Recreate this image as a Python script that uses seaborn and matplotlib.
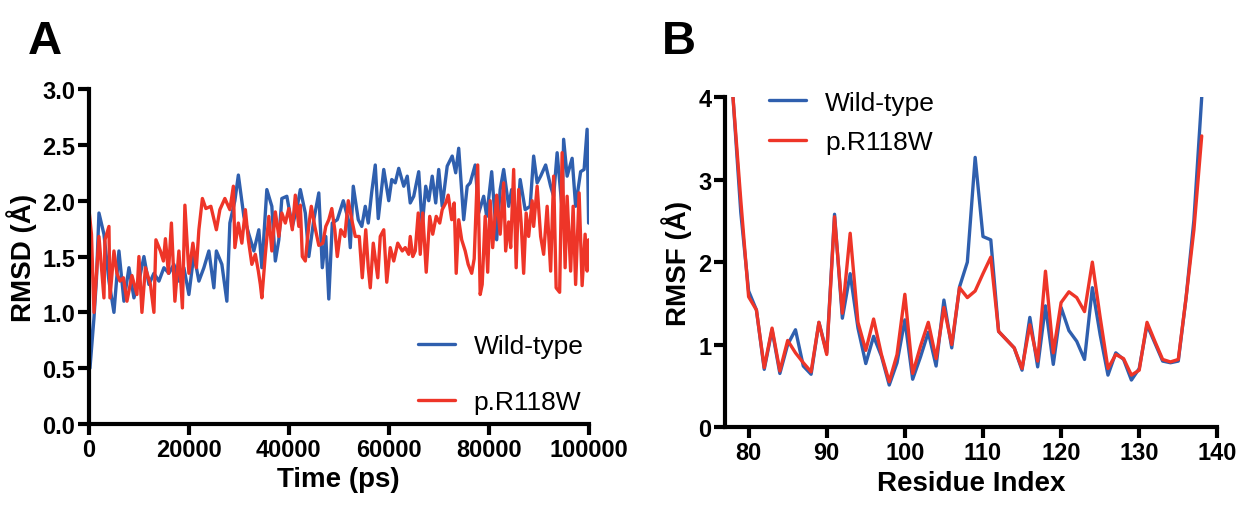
import matplotlib
matplotlib.use("Agg")
import matplotlib.pyplot as plt
import seaborn as sns
import pandas as pd

# RMSD time series (ps, Angstrom)
wt_time = [
    0, 200, 1000, 1500, 2000, 3000, 4000, 5000, 6000, 7000,
    8000, 9000, 10000, 11000, 12000, 13000, 14000, 15000, 16000, 17000,
    18000, 19000, 20000, 21000, 22000, 23000, 24000, 25000, 25500, 26600,
    27600, 28200, 29200, 29900, 31000, 32000, 33000, 34000, 34600, 35600,
    36600, 37300, 38000, 38600, 39600, 40700, 41700, 42300, 43300, 44000,
    45000, 46000, 46700, 47400, 48000, 48700, 49700, 50900, 51900, 52300,
    52900, 53900, 54600, 55300, 55900, 56600, 57300, 57900, 59000, 60000,
    60600, 61300, 62000, 63000, 63700, 64300, 65000, 66000, 66700, 67400,
    68000, 68700, 69400, 70000, 70700, 71700, 72700, 73400, 74000, 75000,
    75700, 76300, 77300, 78000, 79000, 79600, 80600, 81600, 82300, 83000,
    84000, 84600, 85700, 86300, 87300, 88300, 89000, 89700, 90400, 91400,
    92400, 93000, 93700, 94700, 95000, 95700, 96700, 97400, 98400, 99100,
    99700, 100000,
]
wt_rmsd = [
    1.45, 0.5, 0.95, 1.3, 1.89, 1.7, 1.28, 1.0, 1.55, 1.1,
    1.4, 1.13, 1.28, 1.5, 1.25, 1.35, 1.28, 1.4, 1.35, 1.43,
    1.28, 1.4, 1.16, 1.52, 1.28, 1.4, 1.55, 1.22, 1.55, 1.43,
    1.1, 1.8, 2.0, 2.23, 1.86, 1.7, 1.55, 1.74, 1.4, 2.1,
    1.95, 1.46, 1.65, 2.02, 2.04, 1.77, 1.95, 2.1, 1.89, 1.5,
    1.83, 2.07, 1.4, 1.68, 1.12, 1.8, 1.83, 2.0, 1.83, 1.58,
    2.13, 1.83, 1.77, 1.95, 1.8, 2.08, 2.32, 1.84, 2.28, 2.0,
    2.19, 2.16, 2.29, 2.13, 2.22, 1.98, 2.04, 2.26, 1.77, 2.13,
    2.0, 2.22, 1.98, 2.28, 1.95, 2.31, 2.4, 2.25, 2.47, 1.83,
    2.13, 2.16, 2.32, 1.89, 2.04, 1.86, 2.26, 1.65, 2.1, 2.28,
    1.95, 2.1, 1.8, 2.19, 1.92, 1.95, 2.4, 2.16, 2.22, 2.32,
    2.13, 2.04, 2.43, 1.92, 2.55, 2.22, 2.38, 1.95, 2.26, 2.28,
    2.64, 1.8,
]

mut_time = [
    0, 500, 1000, 2000, 3000, 3200, 4000, 4200, 5000, 5600,
    6200, 6900, 7600, 8600, 9600, 10000, 10600, 11300, 12300, 13000,
    13400, 14300, 14900, 15300, 15900, 16500, 17200, 18000, 18700, 19200,
    20000, 20800, 21500, 22000, 22700, 23400, 24400, 25500, 26200, 27200,
    28200, 28900, 29200, 29900, 30600, 31300, 31900, 32600, 33300, 33900,
    34300, 34600, 35300, 36000, 36600, 37300, 38000, 38600, 39300, 40000,
    40700, 41300, 42000, 42300, 42700, 43300, 44000, 44500, 45200, 46000,
    46800, 47400, 48000, 48600, 49200, 49700, 50400, 51200, 51900, 52600,
    53300, 54100, 54700, 55400, 55900, 56300, 56900, 57800, 58300, 59000,
    59600, 60300, 61000, 61800, 62700, 63300, 64000, 64300, 64800, 65300,
    65900, 66300, 66800, 67500, 68200, 68800, 69500, 70200, 70700, 71400,
    71900, 72600, 73100, 73500, 74000, 74600, 75300, 75900, 76600, 77100,
    77800, 78300, 78700, 79300, 79800, 80300, 80800, 81600, 82300, 83000,
    83400, 84000, 84400, 85000, 85500, 86000, 86500, 87000, 87500, 88000,
    88700, 89000, 89700, 90400, 91000, 91700, 92400, 93000, 93500, 94200,
    94700, 95300, 95700, 96400, 96900, 97400, 98100, 98700, 99300, 99700,
    100000,
]
mut_rmsd = [
    1.92, 1.7, 1.0, 1.68, 1.13, 1.65, 1.77, 1.13, 1.55, 1.35,
    1.28, 1.31, 1.1, 1.33, 1.16, 1.5, 1.0, 1.4, 1.25, 1.0,
    1.65, 1.55, 1.46, 1.66, 1.35, 1.8, 1.1, 1.55, 1.04, 1.96,
    1.35, 1.62, 1.4, 1.74, 2.02, 1.93, 1.95, 1.74, 1.92, 2.02,
    1.92, 2.13, 1.58, 1.8, 1.62, 1.92, 1.65, 1.43, 1.52, 1.37,
    1.25, 1.13, 1.52, 1.86, 1.55, 1.9, 1.68, 1.89, 1.8, 1.93,
    1.74, 2.05, 1.77, 1.96, 1.5, 1.46, 1.78, 1.95, 1.77, 1.6,
    1.62, 1.77, 1.83, 1.93, 1.74, 1.5, 1.74, 1.68, 2.0, 1.83,
    1.68, 1.68, 1.31, 1.74, 1.4, 1.22, 1.62, 1.31, 1.68, 1.74,
    1.27, 1.58, 1.46, 1.62, 1.55, 1.58, 1.52, 1.68, 1.5, 1.55,
    1.89, 1.52, 1.89, 1.36, 1.86, 1.7, 1.86, 1.8, 1.92, 1.98,
    2.05, 1.83, 1.98, 1.35, 1.83, 1.65, 1.55, 1.43, 1.35, 1.48,
    2.32, 1.16, 1.25, 1.86, 1.36, 2.0, 1.58, 2.05, 1.7, 2.16,
    1.55, 1.81, 1.58, 2.28, 1.4, 2.1, 1.8, 1.35, 1.89, 1.68,
    2.0, 1.77, 2.13, 1.68, 1.52, 1.95, 1.37, 2.22, 1.22, 1.18,
    2.43, 1.4, 2.04, 1.37, 1.95, 1.25, 2.07, 1.24, 1.7, 1.37,
    1.65,
]

# RMSF per residue (Angstrom)
residues = list(range(78, 139))
wt_rmsf = [
    4.0, 2.6, 1.65, 1.42, 0.7, 1.18, 0.65, 1.0, 1.18, 0.74,
    0.64, 1.27, 0.9, 2.58, 1.32, 1.86, 1.2, 0.77, 1.1, 0.86,
    0.51, 0.78, 1.3, 0.58, 0.85, 1.15, 0.74, 1.54, 0.96, 1.7,
    2.0, 3.27, 2.31, 2.27, 1.16, 1.06, 0.96, 0.69, 1.33, 0.73,
    1.47, 0.76, 1.45, 1.17, 1.04, 0.82, 1.69, 1.12, 0.63, 0.9,
    0.82, 0.57, 0.71, 1.24, 1.02, 0.8, 0.78, 0.8, 1.57, 2.51,
    4.0,
]
mut_rmsf = [
    4.0, 2.75, 1.58, 1.42, 0.72, 1.2, 0.68, 1.05, 0.9, 0.78,
    0.67, 1.27, 0.88, 2.55, 1.38, 2.35, 1.27, 0.93, 1.31, 0.88,
    0.55, 0.88, 1.61, 0.65, 0.98, 1.27, 0.83, 1.45, 1.0, 1.69,
    1.57, 1.65, 1.86, 2.06, 1.16, 1.06, 0.96, 0.71, 1.24, 0.8,
    1.89, 0.9, 1.51, 1.64, 1.57, 1.4, 2.0, 1.33, 0.71, 0.88,
    0.83, 0.63, 0.69, 1.27, 1.04, 0.82, 0.79, 0.82, 1.57, 2.39,
    3.53,
]

labels = ["Wild-type", "p.R118W"]
colors = {"Wild-type": "#2f5fae", "p.R118W": "#ee3528"}

rmsd = pd.concat([
    pd.DataFrame({"time": wt_time, "rmsd": wt_rmsd, "group": labels[0]}),
    pd.DataFrame({"time": mut_time, "rmsd": mut_rmsd, "group": labels[1]}),
])
rmsf = pd.concat([
    pd.DataFrame({"res": residues, "rmsf": wt_rmsf, "group": labels[0]}),
    pd.DataFrame({"res": residues, "rmsf": mut_rmsf, "group": labels[1]}),
])

sns.set_style("ticks")
plt.rcParams["font.family"] = ["Liberation Sans", "DejaVu Sans"]
plt.rcParams["text.color"] = "black"
plt.rcParams["axes.labelcolor"] = "black"
plt.rcParams["xtick.color"] = "black"
plt.rcParams["ytick.color"] = "black"

fig = plt.figure(figsize=(12.46, 5.06), dpi=100)
ax1 = fig.add_axes([0.0714, 0.160, 0.401, 0.662])
ax2 = fig.add_axes([0.582, 0.154, 0.395, 0.652])

sns.lineplot(data=rmsd, x="time", y="rmsd", hue="group", palette=colors,
             estimator=None, sort=False, linewidth=2.4, ax=ax1)
sns.lineplot(data=rmsf, x="res", y="rmsf", hue="group", palette=colors,
             estimator=None, sort=False, linewidth=2.4, ax=ax2)

ax1.set_xlim(0, 100000)
ax1.set_ylim(0, 3)
ax1.set_xticks(range(0, 100001, 20000))
ax1.set_yticks([0, 0.5, 1.0, 1.5, 2.0, 2.5, 3.0])
ax1.set_yticklabels(["0.0", "0.5", "1.0", "1.5", "2.0", "2.5", "3.0"])
ax1.set_xlabel("Time (ps)", fontsize=20, fontweight="bold")
ax1.set_ylabel("RMSD (Å)", fontsize=20, fontweight="bold")

ax2.set_xlim(77, 140)
ax2.set_ylim(0, 4)
ax2.set_xticks(range(80, 141, 10))
ax2.set_yticks(range(0, 5))
ax2.set_xlabel("Residue Index", fontsize=20, fontweight="bold")
ax2.set_ylabel("RMSF (Å)", fontsize=20, fontweight="bold")

for ax in (ax1, ax2):
    sns.despine(ax=ax)
    for side in ("left", "bottom"):
        ax.spines[side].set_linewidth(3)
        ax.spines[side].set_color("black")
    ax.tick_params(width=3, length=8, labelsize=17, pad=2, color="black")
    for t in ax.get_xticklabels() + ax.get_yticklabels():
        t.set_fontweight("bold")

ax1.legend(loc="lower right", bbox_to_anchor=(0.99, 0.03), frameon=False,
           fontsize=19, handlelength=1.4, handletextpad=0.7,
           labelspacing=1.2, borderpad=0, borderaxespad=0, title=None)
ax2.legend(loc="upper left", bbox_to_anchor=(0.09, 1.02), frameon=False,
           fontsize=19, handlelength=1.4, handletextpad=0.7,
           labelspacing=0.6, borderpad=0, borderaxespad=0, title=None)

fig.text(0.022, 0.96, "A", fontsize=34, fontweight="bold", va="top")
fig.text(0.531, 0.96, "B", fontsize=34, fontweight="bold", va="top")

fig.savefig("out.png", dpi=100)
